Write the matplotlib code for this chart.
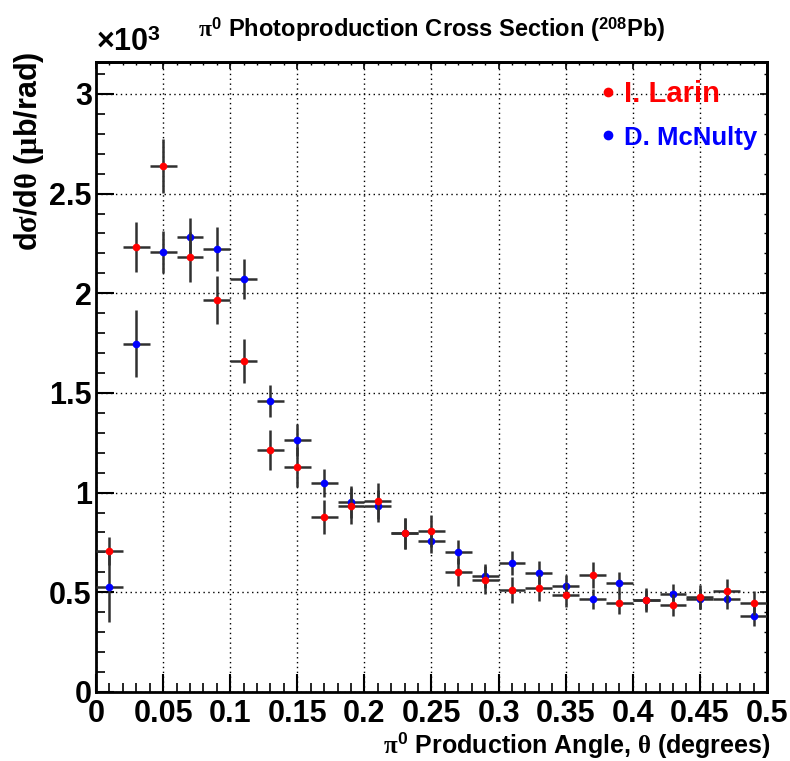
#!/usr/bin/env python
# -*- coding: utf-8 -*-
# pi0 photoproduction cross section on 208Pb, two analyses compared

import matplotlib
matplotlib.use('Agg')
import matplotlib.pyplot as plt
from matplotlib.lines import Line2D
from matplotlib.ticker import MultipleLocator, FuncFormatter

plt.rcParams['font.family'] = ['Liberation Sans', 'DejaVu Sans']
plt.rcParams['font.weight'] = 'bold'
plt.rcParams['mathtext.fontset'] = 'custom'
plt.rcParams['mathtext.rm'] = 'Liberation Sans:bold'
plt.rcParams['mathtext.bf'] = 'Liberation Sans:bold'
plt.rcParams['mathtext.it'] = 'Liberation Serif'

# bin centres (degrees), bin half width 0.01
theta = [0.01, 0.03, 0.05, 0.07, 0.09, 0.11, 0.13, 0.15, 0.17, 0.19,
         0.21, 0.23, 0.25, 0.27, 0.29, 0.31, 0.33, 0.35, 0.37, 0.39,
         0.41, 0.43, 0.45, 0.47, 0.49]
half_bin = 0.01

# values in units of 10^3 ub/rad
larin = [0.707, 2.232, 2.638, 2.182, 1.965, 1.660, 1.215, 1.130, 0.877, 0.935,
         0.960, 0.795, 0.807, 0.600, 0.561, 0.513, 0.521, 0.486, 0.588, 0.444,
         0.461, 0.434, 0.475, 0.505, 0.448]
larin_err = [0.070, 0.125, 0.135, 0.125, 0.120, 0.110, 0.100, 0.100, 0.085, 0.090,
             0.090, 0.080, 0.080, 0.070, 0.070, 0.065, 0.065, 0.060, 0.065, 0.055,
             0.060, 0.055, 0.060, 0.060, 0.060]

mcnulty = [0.528, 1.748, 2.207, 2.280, 2.220, 2.070, 1.459, 1.266, 1.050, 0.952,
           0.935, 0.795, 0.755, 0.700, 0.583, 0.647, 0.598, 0.530, 0.466, 0.546,
           0.461, 0.490, 0.466, 0.466, 0.381]
mcnulty_err = [0.175, 0.170, 0.105, 0.100, 0.110, 0.100, 0.080, 0.080, 0.070, 0.080,
               0.080, 0.080, 0.060, 0.060, 0.060, 0.060, 0.057, 0.056, 0.050, 0.055,
               0.050, 0.050, 0.050, 0.050, 0.050]

fig = plt.figure(figsize=(7.9, 7.61), dpi=100)
ax = fig.add_axes([0.1215, 0.0907, 0.8494, 0.8278])

ebar = dict(fmt='o', ms=5.5, mew=0, ecolor='#303030', elinewidth=1.8, capsize=0)
ax.errorbar(theta, mcnulty, xerr=half_bin, yerr=mcnulty_err,
            mfc='blue', zorder=3, **ebar)
ax.errorbar(theta, larin, xerr=half_bin, yerr=larin_err,
            mfc='red', zorder=4, **ebar)

ax.set_xlim(0, 0.5)
ax.set_ylim(0, 3.16)
ax.xaxis.set_major_locator(MultipleLocator(0.05))
ax.xaxis.set_minor_locator(MultipleLocator(0.01))
ax.yaxis.set_major_locator(MultipleLocator(0.5))
ax.yaxis.set_minor_locator(MultipleLocator(0.1))
fmt = FuncFormatter(lambda v, p: '%g' % round(v, 3))
ax.xaxis.set_major_formatter(fmt)
ax.yaxis.set_major_formatter(fmt)

ax.tick_params(which='major', direction='in', length=13, width=1.5,
               labelsize=22, top=False, right=False)
ax.tick_params(axis='x', which='major', pad=5)
ax.tick_params(axis='y', which='major', pad=3)
ax.tick_params(which='minor', direction='in', length=6.5, width=1.2,
               top=False, right=False)
for s in ax.spines.values():
    s.set_linewidth(2)

ax.grid(True, which='major', color='black', linestyle=(0, (1, 2.5)), linewidth=1)

# small ticks on top and right edges
sec_x = ax.secondary_xaxis('top')
sec_x.xaxis.set_major_locator(MultipleLocator(0.05))
sec_x.xaxis.set_minor_locator(MultipleLocator(0.01))
sec_x.tick_params(which='major', direction='in', length=5, width=1.2, labeltop=False)
sec_x.tick_params(which='minor', direction='in', length=2.5, width=1, labeltop=False)
sec_x.spines['top'].set_linewidth(2)
sec_y = ax.secondary_yaxis('right')
sec_y.yaxis.set_major_locator(MultipleLocator(0.5))
sec_y.yaxis.set_minor_locator(MultipleLocator(0.1))
sec_y.tick_params(which='major', direction='in', length=5, width=1.2, labelright=False)
sec_y.tick_params(which='minor', direction='in', length=2.5, width=1, labelright=False)
sec_y.spines['right'].set_linewidth(2)

fig.text(0.5462, 0.9606, r'$\pi^{\mathbf{0}}$ Photoproduction Cross Section ($^{\mathbf{208}}$Pb)',
         ha='center', va='center', fontsize=17)
fig.text(0.1215, 0.933, r'$\times\mathbf{10}^{\mathbf{3}}$', ha='left', va='baseline', fontsize=22)
fig.text(0.037, 0.932, r'd$\sigma$/d$\theta$ ($\mu$b/rad)', rotation=90,
         ha='center', va='top', fontsize=22)
fig.text(0.975, 0.021, r'$\pi^{\mathbf{0}}$ Production Angle, $\theta$ (degrees)',
         ha='right', va='center', fontsize=18)

handles = [Line2D([], [], marker='o', ls='none', ms=7, mew=0, mfc='red'),
           Line2D([], [], marker='o', ls='none', ms=7, mew=0, mfc='blue')]
leg = fig.legend(handles, ['I. Larin', 'D. McNulty'], loc='upper left',
                 bbox_to_anchor=(0.725, 0.929), frameon=False,
                 handlelength=0.6, handletextpad=0.25, labelspacing=0.55,
                 labelcolor='markerfacecolor', prop={'weight': 'bold', 'size': 21})
leg.get_texts()[1].set_fontsize(18.5)

fig.savefig('out.png', dpi=100)
